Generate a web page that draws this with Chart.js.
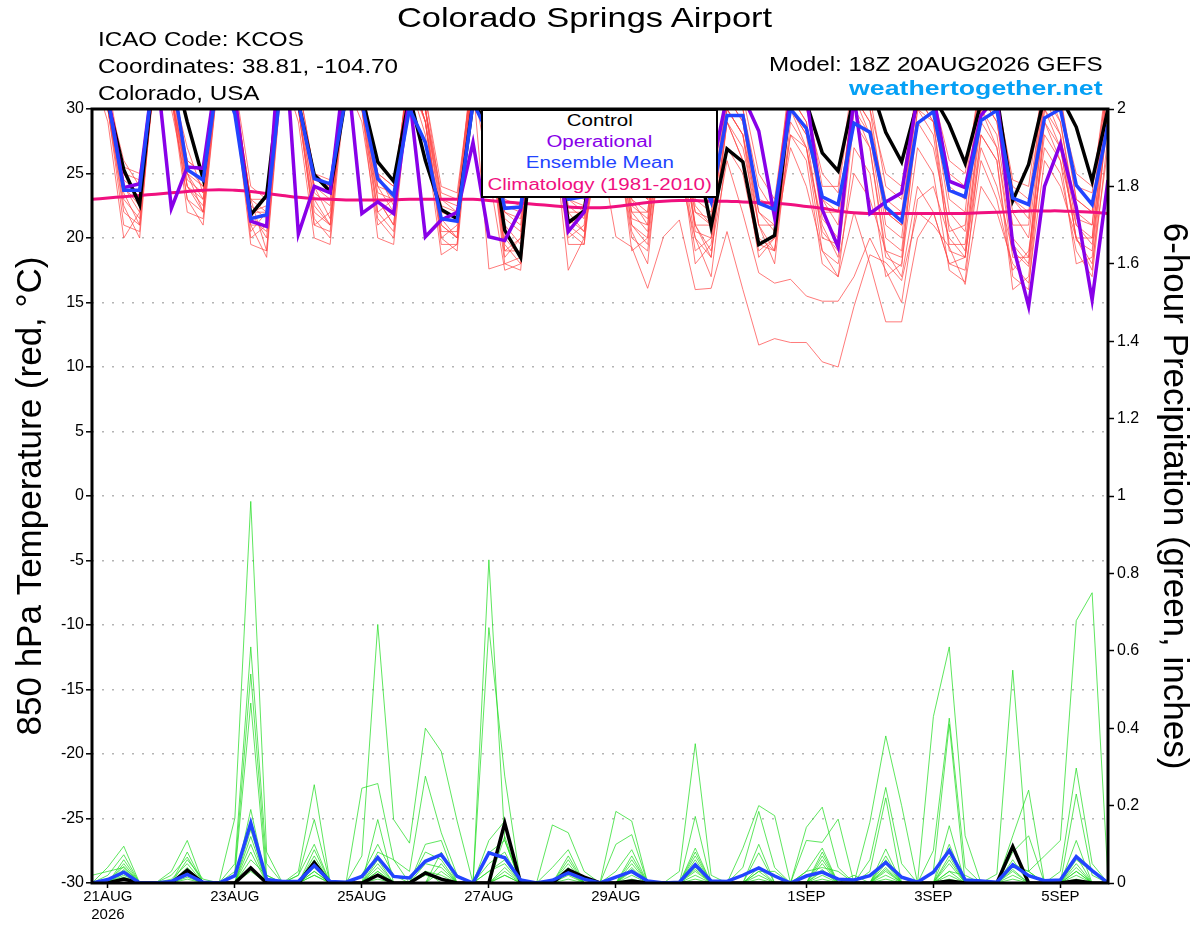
<!DOCTYPE html>
<html>
<head>
<meta charset="utf-8">
<title>Colorado Springs Airport</title>
<script src="https://cdn.jsdelivr.net/npm/chart.js@4.4.1/dist/chart.umd.min.js"></script>
<style>
  html, body { margin: 0; padding: 0; background: #fff; }
  #wrap { position: relative; width: 1200px; height: 927px; font-family: "Liberation Sans", Arial, sans-serif; }
  #chart { position: absolute; left: 0; top: 0; }
  .txt { position: absolute; white-space: nowrap; line-height: 1; color: #000; }
  .txt span { display: inline-block; }
  .left span { transform-origin: left center; }
  .right { text-align: right; }
  .right span { transform-origin: right center; }
  .center { text-align: center; }
  .center span { transform-origin: center center; }
  #legendBox { position: absolute; left: 481px; top: 109px; width: 237px; height: 89px; box-sizing: border-box; border: 2px solid #000; background: #fff; }
</style>
</head>
<body>
<div id="wrap">
  <canvas id="chart" width="1200" height="927"></canvas>

  <div class="txt center" style="left:0; width:1170px; top:4px; font-size:28px;"><span style="transform:scaleX(1.23)">Colorado Springs Airport</span></div>
  <div class="txt left" style="left:98px; top:29px; font-size:20px;"><span style="transform:scaleX(1.21)">ICAO Code: KCOS</span></div>
  <div class="txt left" style="left:98px; top:56px; font-size:20px;"><span style="transform:scaleX(1.21)">Coordinates: 38.81, -104.70</span></div>
  <div class="txt left" style="left:98px; top:83px; font-size:20px;"><span style="transform:scaleX(1.21)">Colorado, USA</span></div>
  <div class="txt right" style="right:97px; top:54px; font-size:20px;"><span style="transform:scaleX(1.21)">Model: 18Z 20AUG2026 GEFS</span></div>
  <div class="txt right" style="right:97px; top:77px; font-size:21px; font-weight:bold; color:#05a0f5;"><span style="transform:scaleX(1.27)">weathertogether.net</span></div>

  <div id="legendBox"></div>
  <div class="txt center" style="left:481px; width:237px; top:113px; font-size:16px;"><span style="transform:scaleX(1.28)">Control</span></div>
  <div class="txt center" style="left:481px; width:237px; top:134px; font-size:16px; color:#8800e8;"><span style="transform:scaleX(1.28)">Operational</span></div>
  <div class="txt center" style="left:481px; width:237px; top:155px; font-size:16px; color:#2244ff;"><span style="transform:scaleX(1.28)">Ensemble Mean</span></div>
  <div class="txt center" style="left:481px; width:237px; top:177px; font-size:16px; color:#f0107f;"><span style="transform:scaleX(1.28)">Climatology (1981-2010)</span></div>
</div>

<script>
// 6-hourly steps from 18Z 20AUG2026 (step 0) to 18Z 5SEP2026 (step 64)
const tickIndex = [1, 9, 17, 25, 33, 45, 53, 61];
const tickLabels = [['21AUG', '2026'], '23AUG', '25AUG', '27AUG', '29AUG', '1SEP', '3SEP', '5SEP'];

// 850 hPa temperature (C)
const tempControl = [34,30.5,25.3,22.6, 34,34,29,24.6, 34,30.3,21.8,23.3, 34,30.5,24.9,23.6, 31,31,25.9,24.4, 31,26,22.2,21.5, 30.5,28.7,20.6,18.5, 31,30,21.2,22.1, 30,29,26,25, 31,30,27,20.9, 26.9,25.9,19.5,20.2, 31,30.5,26.6,25.2, 31,32,28.2,25.9, 30.5,31,28.8,25.8, 30.5,31,22.9,25.7, 31,31,28.6,24.4, 30];
const tempOper = [34,31,23.9,24.2, 34,22.3,25.5,25.4, 34,31,21.3,20.9, 38,20.3,24,23.5, 34,21.9,22.8,21.9, 31,20.1,21.4,22, 27.4,20.1,19.8,22.2, 31,30,20.5,22, 28,30,28,26, 31,30,27,25, 31,31,28.3,21.6, 31,31,22.2,19.3, 31,21.9,22.8,23.5, 31,31,24.4,23.9, 29.5,31,19.5,14.7, 24,27.3,22.4,15.2, 24.5];
const tempMean = [34,30.8,23.7,23.7, 34,33,25.3,24.5, 33,29.6,21.5,21.8, 33,30.5,24.6,24.2, 31,30.5,24.6,23.3, 30,27.4,21.5,21.3, 30.5,28,22.3,22.4, 31,29.5,23,23.2, 29,28,26,25, 30,29,26,22.8, 29.5,29.5,22.7,22.2, 30,28.5,23.2,22.6, 28.9,28.2,22.4,21.3, 28.9,29.8,23.7,23.2, 29.1,29.9,23.1,22.6, 29.3,30,24.1,22.6, 28.8];
const tempClimo = [23.0,23.1,23.2,23.3, 23.4,23.5,23.6,23.7, 23.75,23.7,23.6,23.45, 23.3,23.15,23.05,23.0, 22.95,22.95,22.95,22.95, 23.0,23.0,23.0,23.0, 23.0,22.9,22.8,22.7, 22.6,22.5,22.4,22.35, 22.35,22.45,22.6,22.75, 22.85,22.9,22.9,22.85, 22.85,22.8,22.75,22.7, 22.6,22.45,22.3,22.1, 21.95,21.9,21.9,21.9, 21.9,21.9,21.9,21.9, 21.95,22.0,22.05,22.1, 22.1,22.1,22.05,22.0, 21.9];

const tempM01 = [33,31,24,22, 33,32,27,23.5, 34,30,22,20, 33,30,23,21, 33,31,25,22.5, 33,29,21,20, 33,27,20,18.5, 32,30,22,20.5, 27,20.1,19.3,16.1, 20.1,21.4,16,16.1, 20.5,16,11.7,12.2, 11.9,11.9,10.4,10.0, 14.7,18.7,18.1,16.7, 22,21,19.3,16.4, 24,22,18,16.5, 26,24,20,18, 27];
const tempM02 = [33,30,25,23, 33,31,25,22, 33,31,23,19, 33,31,24,21.5, 33,31,23,21, 33,30,20,19, 32,25,17.5,18, 31,28,20.5,19.5, 31,29,21,19.5, 29,28,21,19, 26,21.9,17.3,16.5, 16.8,15.5,15.1,15.1, 17,20,17.5,15, 23,24,20,18.5, 27,24,19,17.8, 28,26,21,19.5, 29];
const tempM03 = [34,30,22,21, 34,32,24,22.5, 34,30,20,21, 33,30,21,22, 33,31,22,23, 33,30,21.5,20, 33,29,19,20, 33,31,21,22, 33,30,23,21, 31,28,22,21, 30,28,21,18, 29,27,19,17, 22,18,13.5,13.5, 20,22,18,18.5, 28,26,17,16, 29,27,20,17.5, 30];
const tempM04 = [33,31,26,24, 33,32,25.5,24, 33,31,23,22, 33,32,25,24, 33,31,25,24, 33,31,23,22, 33,29,22,21, 33,31,23,22.5, 33,31,24,23, 32,30,23,22, 31,30,23,22.5, 32,30,25,23.5, 32,30,25,24, 32,31,26,25, 32,31,24,23, 32,30,25,24, 32];
const tempM05 = [33,29,20,22, 33,31,23,21, 33,30,21,18.5, 33,29,20,19.5, 32,30,20,19.5, 32,28,18.7,19.5, 32,17.6,18,17.5, 31,29,19.5,19.5, 30,28,20,19, 28,25,20,17, 27,25,19,20, 27,24,19,18, 25,23,19,17, 24,22,18,17.5, 26,23,17.5,19, 27,25,19,17, 28];
const tempM06 = [34,32,25,23, 34,33,26,25, 34,32,24,23, 34,31,24,23.5, 34,32,24.5,23, 34,30,23,22.5, 34,31,22,21.5, 34,32,23.5,23, 33,31,23,22, 33,30,22,21.5, 32,30,24,22, 33,31,23,21, 32,30,22,21, 32,31,23,22, 33,31,23,21.5, 33,31,23,22, 33];
const tempM07 = [33,30,23,21.5, 33,30,24,23, 33,31,21.5,20.5, 33,30,22,21, 32,29,21,22, 32,29,20,21, 32,28,18.5,20, 32,30,21,20, 31,29,22,20.5, 30,27,19,20, 29,27,21,19, 30,28,20,19.5, 30,28,20,19, 30,29,19,18.5, 30,28,20,18.5, 31,28,19.8,19, 31];
const tempM08 = [33,31,24.5,23.5, 33,31,25,24, 34,31,22.5,21.5, 34,31,23.5,22.5, 33,31,23.5,23, 33,30,22,21.5, 33,30,21,19.5, 33,31,22.5,21.5, 32,30,22,22, 31,30,21,21, 31,29,22,20.5, 31,29,21.5,20, 31,29,21,20, 31,30,22,20.5, 31,29,22,20, 31,29,21.5,21, 32];
const tempM09 = [34,30,21,20.5, 34,31,24,22, 34,30,19.5,19, 34,30,21.5,20, 33,30,22,20.5, 33,29,19.5,19.5, 33,28,18,18.5, 33,30,20,21, 32,29,19,20, 30,27,20,18.5, 29,26,20,19, 28,26,18,17, 27,25,17,18, 27,25,17.5,16.6, 28,26,16,17, 29,26,18,18.5, 30];
const tempM10 = [33,31,25.5,25, 33,32,26,25, 33,31,23,23, 33,32,25,24.5, 33,32,25,24, 33,31,24,23.5, 33,30,23,22.5, 33,31,24,23.5, 33,31,24,23, 32,31,24,23, 32,31,25,23, 32,31,24,24, 33,31,24,23, 32,31,25,24, 33,31,24.5,24, 33,31,24,23.5, 33];
const tempM11 = [33,30,23.5,21, 33,31,22,21.5, 33,30,20.5,22, 33,30,21,20.5, 33,30,21.5,20, 33,29,20.5,20.5, 33,28,19.5,18, 33,29,17.5,20, 31,28,20.5,18, 30,27,18,19.5, 29,26,18.5,20, 28,27,21,18.5, 29,27,19,18.5, 29,27,21,19, 29,27,19.5,18, 30,27,20,20, 31];
const tempM12 = [34,31,24,22.5, 34,32,25,23, 34,32,22,22, 34,31,24,23, 34,31,24,22, 34,30,22.5,22, 34,30,21.5,20.5, 34,31,22,22, 33,30,21.5,21, 32,29,20.5,20, 31,29,21,21, 31,29,22,22, 31,28,22,21, 31,29,20.5,21, 31,29,21,21, 32,29,22,21, 32];
const tempM13 = [33,31,25,24.5, 33,31,24.5,23.5, 33,31,22,22.5, 33,31,24.5,24, 33,31,24,23.5, 33,30,23.5,23, 33,30,22.5,22, 33,31,23,22, 32,30,22.5,21.5, 31,29,22.5,21, 30,28,22,21, 30,28,23,22, 31,29,23,22, 31,29,24,23, 31,30,23,22, 31,30,23,22, 32];
const tempM14 = [34,30,22.5,20, 34,31,23,22, 34,31,21,21, 34,31,22.5,21, 33,30,23,21, 33,29,21,20, 33,29,19,19, 33,30,21.5,20.5, 32,29,21,20, 31,28,21,18.5, 30,28,19.5,19, 30,27,20.5,19, 30,27,18.5,17.8, 30,28,19.5,19.5, 30,27,18.5,18.5, 30,28,21,20, 31];

// 6-hour precipitation (inches)
const precControl = [0,0,0.01,0,0,0,0.033,0, 0,0,0.039,0,0,0,0.053,0, 0,0,0.02,0,0,0.026,0.01,0, 0,0,0.155,0,0,0,0.034,0.015, 0,0,0.005,0,0,0,0,0, 0,0,0,0,0,0,0,0, 0,0,0,0,0,0,0.005,0, 0,0,0.094,0,0,0,0.006,0, 0];
const precMean = [0,0.009,0.028,0,0,0.004,0.022,0.002, 0,0.019,0.155,0.009,0.004,0.004,0.045,0.004, 0.002,0.017,0.066,0.017,0.013,0.056,0.073,0.017, 0,0.078,0.065,0.008,0,0.007,0.026,0.01, 0,0.015,0.03,0.005,0,0.002,0.047,0.005, 0.004,0.02,0.039,0.018,0,0.018,0.028,0.01, 0.008,0.019,0.053,0.015,0.002,0.028,0.084,0.008, 0.005,0.002,0.047,0.019,0.006,0.008,0.068,0.032, 0];

const precM01 = [0,0.041,0.095,0,0,0.03,0.11,0, 0,0.168,0.986,0.08,0,0.03,0.254,0, 0,0.07,0.668,0.164,0.103,0.4,0.34,0.16, 0,0.835,0.11,0,0,0.15,0.13,0.03, 0,0.185,0.16,0,0,0.03,0.36,0.02, 0,0.09,0.2,0.174,0,0.144,0.196,0.04, 0,0.157,0.38,0.2,0,0.43,0.61,0.122, 0,0.023,0.55,0.03,0.07,0.11,0.678,0.75, 0.01];
const precM02 = [0,0.02,0.073,0,0,0.02,0.067,0, 0,0.05,0.61,0.05,0,0.02,0.164,0, 0,0.245,0.257,0.06,0.03,0.276,0.13,0.02, 0,0.66,0.276,0,0,0.04,0.086,0, 0,0.1,0.125,0,0,0,0.172,0, 0,0.04,0.185,0.04,0,0.11,0.105,0.165, 0,0.06,0.247,0.05,0,0.084,0.426,0.04, 0,0,0.122,0.24,0,0.03,0.297,0.05, 0];
const precM03 = [0,0,0.05,0,0,0.01,0.05,0, 0,0.03,0.54,0.02,0,0,0.086,0, 0,0.02,0.1,0.02,0,0.1,0.11,0, 0,0.11,0.16,0,0,0,0.05,0, 0,0.03,0.086,0,0,0,0.09,0, 0,0,0.078,0,0,0.03,0.09,0, 0,0.03,0.22,0,0,0.03,0.41,0, 0,0,0.08,0.122,0,0,0.23,0.02, 0];
const precM04 = [0,0,0.043,0,0,0,0.04,0, 0,0.02,0.465,0,0,0,0.07,0, 0,0,0.164,0,0,0.08,0.06,0, 0,0.078,0.11,0,0,0,0.03,0, 0,0,0.05,0,0,0,0.08,0, 0,0,0.03,0,0,0,0.08,0, 0.02,0,0.088,0,0,0,0.148,0, 0,0,0.05,0.03,0,0,0.11,0, 0];
const precM05 = [0,0,0.03,0,0,0,0.03,0, 0,0,0.19,0,0,0,0.05,0, 0,0,0.06,0,0,0.05,0.04,0, 0,0.05,0.08,0,0,0,0,0, 0,0,0.03,0,0,0,0.05,0, 0,0,0,0,0,0,0.05,0, 0,0,0.05,0,0,0,0.05,0, 0,0,0.03,0,0,0,0.05,0, 0];
const precM06 = [0,0,0.02,0,0,0,0.02,0, 0,0,0.138,0,0,0,0.04,0, 0,0,0.04,0,0,0.03,0,0, 0,0.03,0.05,0,0,0,0,0, 0,0,0,0,0,0,0.03,0, 0,0,0,0,0,0,0.03,0, 0,0,0.03,0,0,0,0.03,0, 0,0,0,0,0,0,0.03,0, 0];
const precM07 = [0,0,0.015,0,0,0,0.015,0, 0,0,0.12,0,0,0,0.03,0, 0,0,0.02,0,0,0,0,0, 0,0,0.03,0,0,0,0.02,0, 0,0,0.02,0,0,0,0.02,0, 0,0,0,0,0,0,0.02,0, 0,0,0.02,0,0,0,0.02,0, 0,0,0.02,0,0,0,0.02,0, 0];
const precM08 = [0,0,0.01,0,0,0,0.01,0, 0,0,0.1,0,0,0,0.02,0, 0,0,0.01,0,0,0.02,0.01,0, 0,0,0.02,0,0,0,0.01,0, 0,0,0.01,0,0,0,0.01,0, 0,0,0.01,0,0,0,0.01,0, 0,0,0.01,0,0,0,0.01,0, 0,0,0.01,0,0,0,0.01,0, 0];
const precM09 = [0,0,0.06,0,0,0,0.08,0, 0,0,0.08,0,0,0,0.06,0, 0,0,0.08,0.06,0,0.03,0.02,0, 0,0,0.04,0,0,0,0.04,0, 0,0,0.04,0,0,0,0.04,0, 0,0,0.03,0.03,0,0.03,0.04,0.03, 0,0,0.04,0,0,0,0.03,0.02, 0,0,0.04,0.03,0,0,0.03,0, 0];
const precM10 = [0.02,0.03,0.04,0,0,0,0.06,0.01, 0,0,0.06,0.02,0,0,0.03,0, 0,0,0.03,0,0,0,0.05,0, 0,0.03,0.06,0,0,0,0.06,0, 0,0,0.06,0,0,0,0.06,0, 0,0,0.04,0,0,0,0.06,0, 0,0,0.06,0,0,0,0.06,0, 0,0,0.06,0,0,0,0.06,0.03, 0];
const precM11 = [0,0,0.035,0,0,0,0.025,0, 0,0,0.04,0,0,0.02,0.1,0, 0,0,0.05,0,0,0,0.08,0, 0,0,0.12,0,0,0,0.07,0, 0,0,0.07,0,0,0,0.07,0, 0,0,0.1,0,0,0,0.07,0, 0,0,0.07,0,0,0,0.1,0, 0,0,0.1,0,0,0,0.07,0, 0];
const precM12 = [0,0,0.025,0,0,0,0.035,0, 0,0,0.03,0,0,0,0.02,0, 0,0,0.03,0,0,0,0.03,0, 0,0,0.02,0,0,0,0.025,0, 0,0,0.035,0,0,0,0.035,0, 0,0,0.02,0,0,0,0.035,0, 0,0,0.035,0,0,0,0.07,0, 0,0,0.035,0,0,0,0.04,0, 0];

const tempMembers = [tempM01, tempM02, tempM03, tempM04, tempM05, tempM06, tempM07, tempM08, tempM09, tempM10, tempM11, tempM12, tempM13, tempM14];
const precMembers = [precM01, precM02, precM03, precM04, precM05, precM06, precM07, precM08, precM09, precM10, precM11, precM12];

const fontFamily = '"Liberation Sans", Arial, sans-serif';

function series(values) {
  return values.map((v, i) => ({ x: i, y: v }));
}

function line(values, color, width, axis, order) {
  return {
    data: series(values),
    borderColor: color,
    borderWidth: width,
    yAxisID: axis,
    order: order,
    clip: 0,
    pointRadius: 0,
    tension: 0,
    fill: false
  };
}

// black frame around the plot, drawn over the lines
const frame = {
  id: 'frame',
  afterDatasetsDraw(chart) {
    const { ctx, chartArea: a } = chart;
    ctx.save();
    ctx.strokeStyle = '#000';
    ctx.lineWidth = 3;
    ctx.strokeRect(a.left, a.top, a.right - a.left, a.bottom - a.top);
    ctx.restore();
  }
};

function drawChart() {
  const datasets = [];
  tempMembers.forEach(m => datasets.push(line(m, 'rgba(255,70,70,0.9)', 0.8, 'y', 9)));
  precMembers.forEach(m => datasets.push(line(m, 'rgba(30,220,30,0.9)', 0.8, 'y2', 8)));
  const climo = line(tempClimo, '#f0107f', 3, 'y', 4);
  climo.tension = 0.4;
  datasets.push(climo);
  datasets.push(line(tempControl, '#000000', 3.5, 'y', 3));
  datasets.push(line(tempOper, '#8800e8', 3.5, 'y', 2));
  datasets.push(line(tempMean, '#2244ff', 3.5, 'y', 1));
  datasets.push(line(precControl, '#000000', 3.5, 'y2', 3));
  datasets.push(line(precMean, '#2244ff', 3.5, 'y2', 1));

  Chart.defaults.font.family = fontFamily;
  const ctx = document.getElementById('chart').getContext('2d');
  new Chart(ctx, {
    type: 'line',
    data: { datasets: datasets },
    options: {
      responsive: false,
      animation: false,
      devicePixelRatio: 1,
      layout: { padding: { top: 109, left: 0, right: 0, bottom: 0 } },
      plugins: { legend: { display: false }, tooltip: { enabled: false } },
      scales: {
        x: {
          type: 'linear',
          min: 0,
          max: 64,
          afterBuildTicks: s => { s.ticks = tickIndex.map(v => ({ value: v })); },
          afterFit: s => { s.height = 44; },
          ticks: {
            autoSkip: false,
            maxRotation: 0,
            padding: 0,
            color: '#000',
            font: { size: 15 },
            callback: v => {
              const k = tickIndex.indexOf(v);
              return k >= 0 ? tickLabels[k] : '';
            }
          },
          grid: { drawOnChartArea: false, tickLength: 5, tickColor: '#000', tickWidth: 1.5 },
          border: { display: false }
        },
        y: {
          position: 'left',
          min: -30,
          max: 30,
          afterFit: s => { s.width = 92; },
          ticks: { stepSize: 5, padding: 2, color: '#000', font: { size: 16 } },
          grid: {
            color: c => (c.tick && Math.abs(c.tick.value) === 30) ? 'rgba(0,0,0,0)' : '#b4b4b4',
            lineWidth: 1.6,
            tickColor: '#000',
            tickLength: 6,
            tickWidth: 1.5
          },
          border: { display: false, dash: [2, 8] },
          title: {
            display: true,
            text: '850 hPa Temperature (red, °C)',
            color: '#000',
            font: { size: 35 },
            padding: { top: 10, bottom: 0 }
          }
        },
        y2: {
          position: 'right',
          min: 0,
          max: 2,
          afterFit: s => { s.width = 92; },
          ticks: {
            stepSize: 0.2,
            padding: 3,
            color: '#000',
            font: { size: 16 },
            callback: v => String(Math.round(v * 10) / 10)
          },
          grid: { drawOnChartArea: false, tickColor: '#000', tickLength: 6, tickWidth: 1.5 },
          border: { display: false },
          title: {
            display: true,
            text: '6-hour Precipitation (green, inches)',
            color: '#000',
            font: { size: 35 },
            padding: { top: 5, bottom: 0 }
          }
        }
      }
    },
    plugins: [frame]
  });
}

drawChart();
</script>
</body>
</html>
